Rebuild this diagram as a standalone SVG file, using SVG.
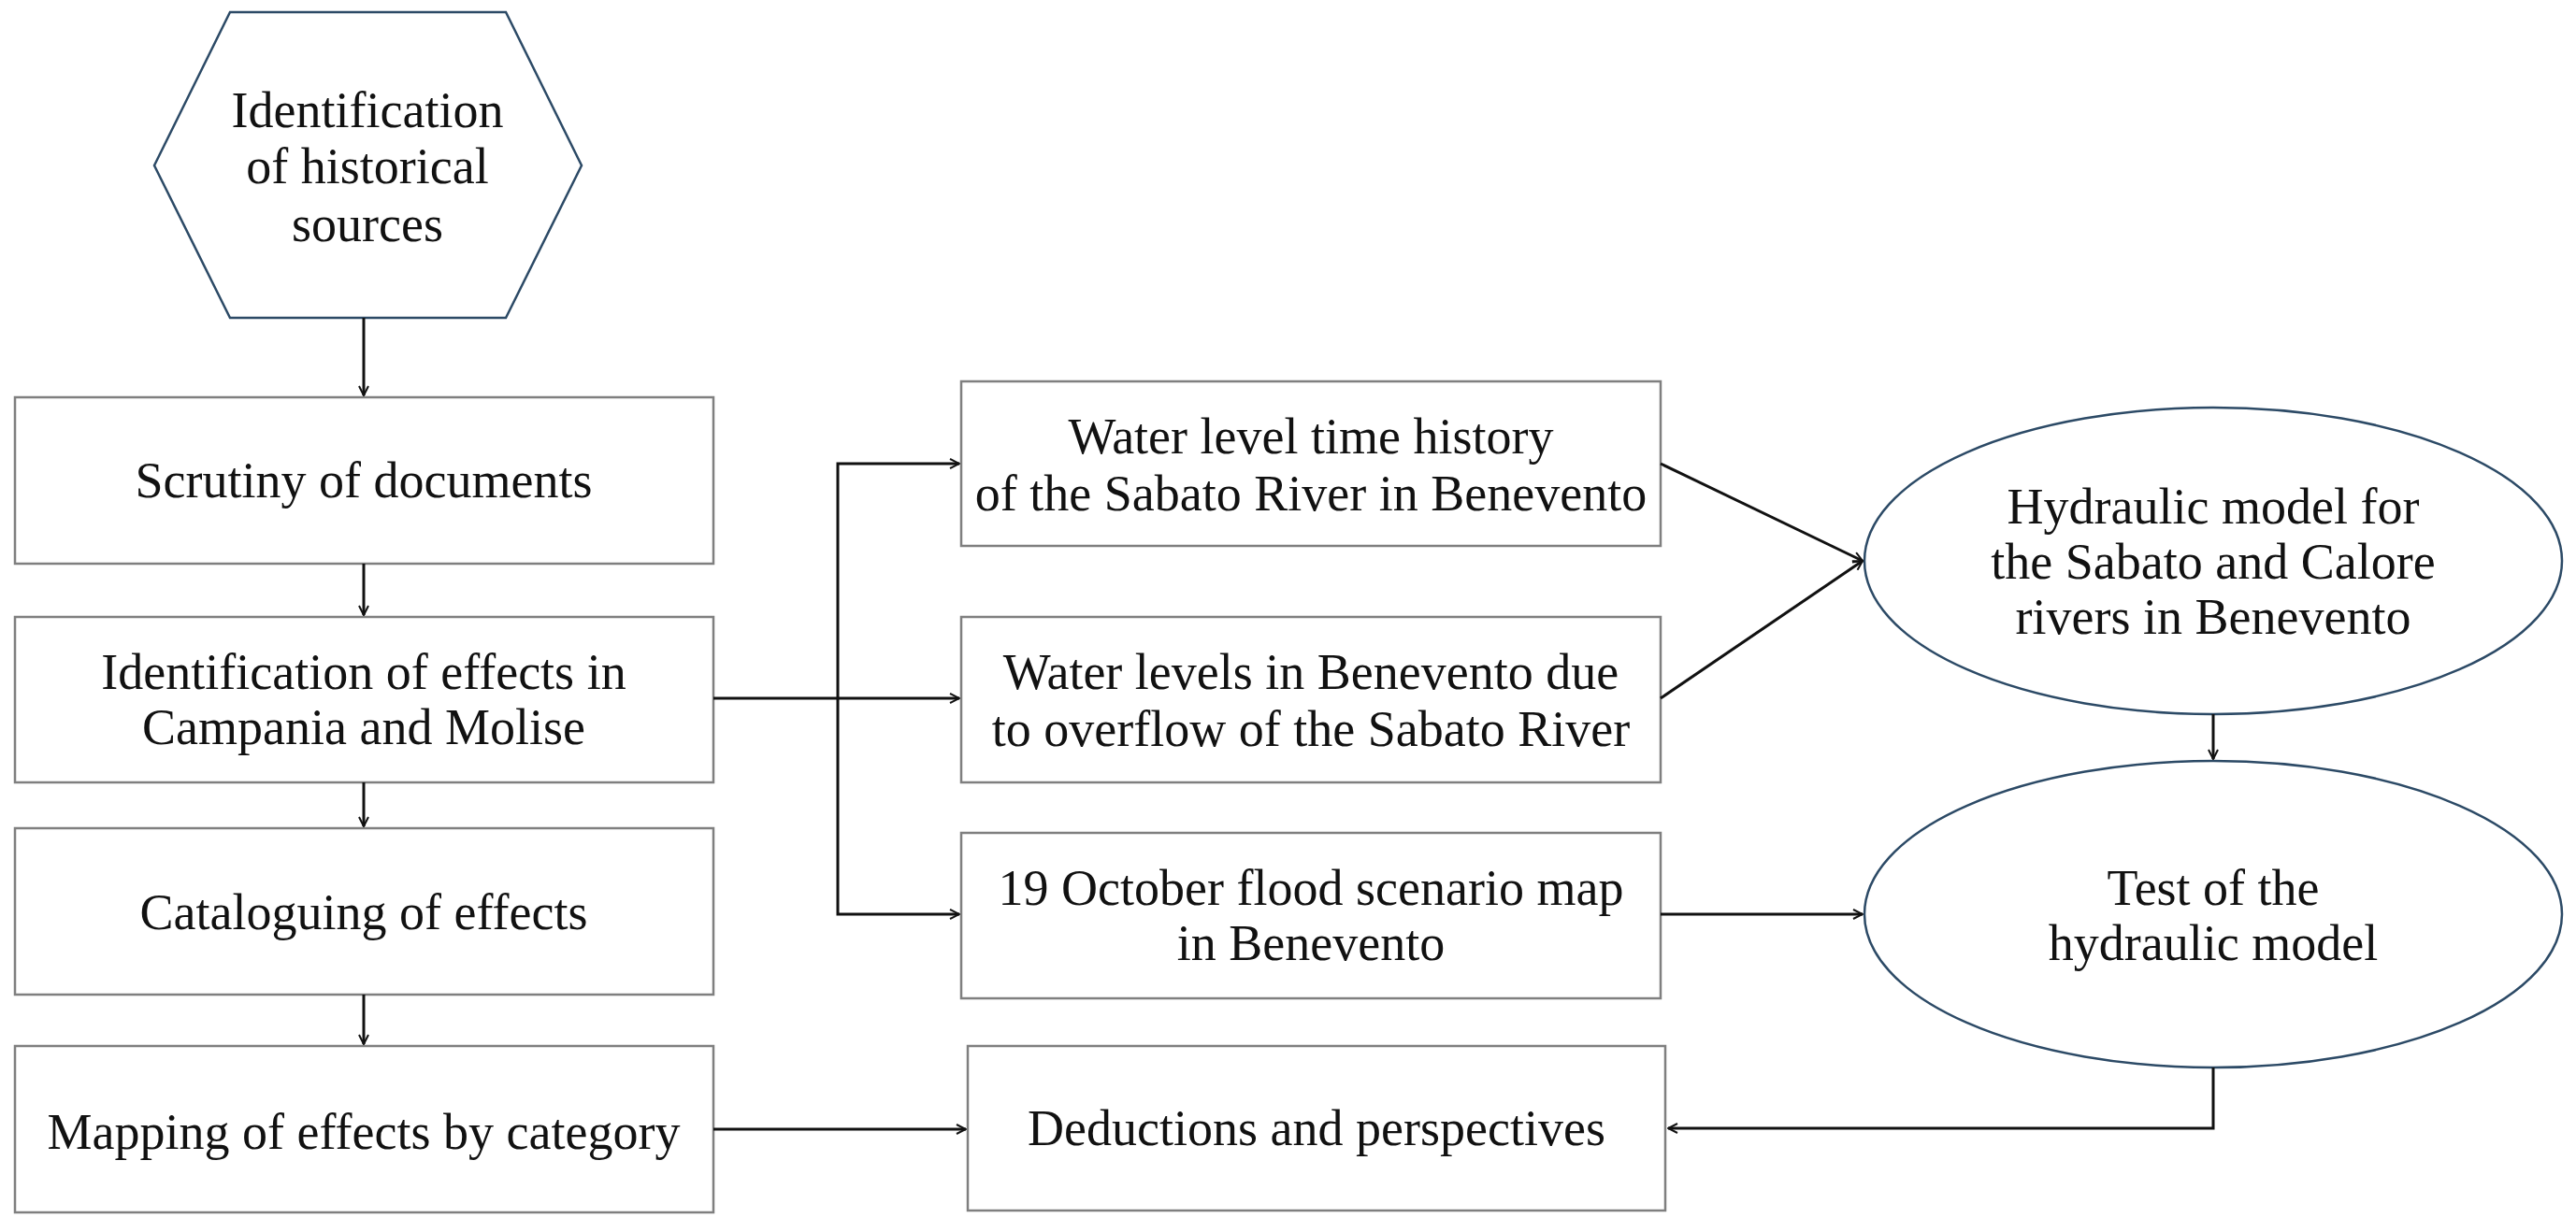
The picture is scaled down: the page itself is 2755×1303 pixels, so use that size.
<svg xmlns="http://www.w3.org/2000/svg" width="2755" height="1303" viewBox="0 0 2755 1303">
<style>
.box{fill:#fff;stroke:#7f7f7f;stroke-width:2.5}
.blue{fill:#fff;stroke:#2c4a66;stroke-width:2.5}
text{font-family:"Liberation Serif","DejaVu Serif",serif;font-size:54px;fill:#111;text-anchor:middle}
.c{fill:none;stroke:#111;stroke-width:3}
</style>
<defs>
<marker id="a" viewBox="0 0 12 12" refX="11" refY="6" markerWidth="12" markerHeight="12" markerUnits="userSpaceOnUse" orient="auto">
<path d="M1,1 L11,6 L1,11" fill="none" stroke="#111" stroke-width="2"/>
</marker>
</defs>
<rect width="2755" height="1303" fill="#fff"/>
<g id="hex"><polygon class="blue" points="165,177 246,13 541,13 622,177 541,340 246,340"/>
<text x="393" y="136">Identification</text><text x="393" y="196">of historical</text><text x="393" y="258">sources</text></g>
<g id="n1"><rect class="box" x="16" y="425" width="747" height="178"/><text x="389" y="532">Scrutiny of documents</text></g>
<g id="n2"><rect class="box" x="16" y="660" width="747" height="177"/><text x="389" y="737">Identification of effects in</text><text x="389" y="796">Campania and Molise</text></g>
<g id="n3"><rect class="box" x="16" y="886" width="747" height="178"/><text x="389" y="994">Cataloguing of effects</text></g>
<g id="n4"><rect class="box" x="16" y="1119" width="747" height="178"/><text x="389" y="1229">Mapping of effects by category</text></g>
<g id="nA"><rect class="box" x="1028" y="408" width="748" height="176"/><text x="1402" y="485">Water level time history</text><text x="1402" y="546">of the Sabato River in Benevento</text></g>
<g id="nB"><rect class="box" x="1028" y="660" width="748" height="177"/><text x="1402" y="737">Water levels in Benevento due</text><text x="1402" y="798">to overflow of the Sabato River</text></g>
<g id="nC"><rect class="box" x="1028" y="891" width="748" height="177"/><text x="1402" y="968">19 October flood scenario map</text><text x="1402" y="1027">in Benevento</text></g>
<g id="nD"><rect class="box" x="1035" y="1119" width="746" height="176"/><text x="1408" y="1225">Deductions and perspectives</text></g>
<g id="e1"><ellipse class="blue" cx="2367" cy="600" rx="373" ry="164"/><text x="2367" y="560">Hydraulic model for</text><text x="2367" y="619">the Sabato and Calore</text><text x="2367" y="678">rivers in Benevento</text></g>
<g id="e2"><ellipse class="blue" cx="2367" cy="978" rx="373" ry="164"/><text x="2367" y="968">Test of the</text><text x="2367" y="1027">hydraulic model</text></g>
<g id="connectors">
<line class="c" x1="389" y1="340" x2="389" y2="423" marker-end="url(#a)"/>
<line class="c" x1="389" y1="603" x2="389" y2="658" marker-end="url(#a)"/>
<line class="c" x1="389" y1="837" x2="389" y2="884" marker-end="url(#a)"/>
<line class="c" x1="389" y1="1064" x2="389" y2="1117" marker-end="url(#a)"/>
<line class="c" x1="763" y1="747" x2="1026" y2="747" marker-end="url(#a)"/>
<polyline class="c" points="896,747 896,496 1026,496" marker-end="url(#a)"/>
<polyline class="c" points="896,747 896,978 1026,978" marker-end="url(#a)"/>
<line class="c" x1="1776" y1="496" x2="1992" y2="600" marker-end="url(#a)"/>
<line class="c" x1="1776" y1="747" x2="1992" y2="600" marker-end="url(#a)"/>
<line class="c" x1="1776" y1="978" x2="1992" y2="978" marker-end="url(#a)"/>
<line class="c" x1="2367" y1="764" x2="2367" y2="812" marker-end="url(#a)"/>
<polyline class="c" points="2367,1142 2367,1207 1784,1207" marker-end="url(#a)"/>
<line class="c" x1="763" y1="1208" x2="1033" y2="1208" marker-end="url(#a)"/>
</g>
</svg>
